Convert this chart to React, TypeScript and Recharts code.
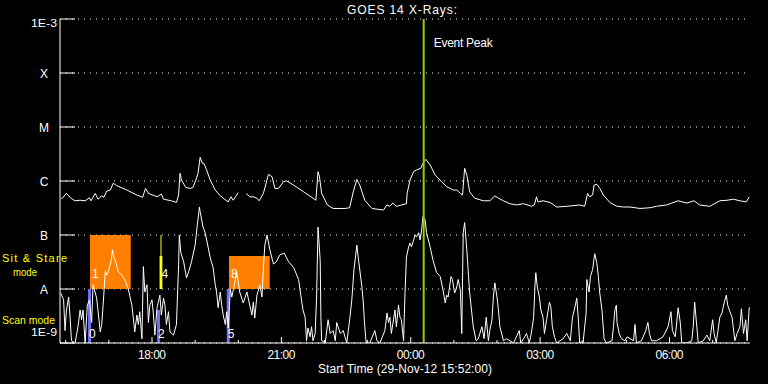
import React from 'react';
import { LineChart, Line, XAxis, YAxis, CartesianGrid, ReferenceArea, ReferenceLine } from 'recharts';

// minutes after 29-Nov-12 15:52, flux in W/m^2
const longChannel: [number, number | null][] = [
  [2, 4.6e-7], [9, 5.9e-7], [15, 4.8e-7], [21, 4.3e-7], [28, 4.4e-7], [35, 4.3e-7], [41, 4.9e-7],
  [43, 4.3e-7], [49, 5.9e-7], [53, 4.6e-7], [58, 5.3e-7], [61, 5.0e-7], [65, 6.5e-7], [70, 6.8e-7],
  [74, 9.1e-7], [79, 8.2e-7], [93, 6.8e-7], [107, 5.5e-7], [115, 5.0e-7], [119, 7.3e-7], [123, 5.9e-7],
  [135, 5.1e-7], [141, 5.7e-7], [144, 4.6e-7], [155, 4.3e-7], [162, 4.0e-7], [165, 5.5e-7], [167, 1.39e-6],
  [169, 1.04e-6], [175, 7.6e-7], [181, 7.3e-7], [185, 7.6e-7], [189, 1.04e-6], [192, 1.39e-6], [195, 2.75e-6],
  [198, 2.13e-6], [200, 2.13e-6], [204, 1.6e-6], [209, 1.04e-6], [216, 6.8e-7], [223, 5.3e-7], [234, 4.1e-7],
  [238, 5.1e-7], [241, 4.4e-7], [248, 6.1e-7], [253, null], [259, 5.9e-7], [264, 5.1e-7], [269, 5.1e-7],
  [274, 4.8e-7], [277, 4.3e-7], [283, 5.9e-7], [290, 1.33e-6], [295, 1.2e-6], [299, 7.3e-7], [304, 7.3e-7],
  [311, 9.7e-7], [315, 1.01e-6], [325, 8.4e-7], [339, 6.3e-7], [352, 4.8e-7], [356, 4.4e-7], [359, 1.49e-6],
  [361, 1.2e-6], [364, 5.9e-7], [372, 3.6e-7], [380, 3.1e-7], [397, 3.1e-7], [403, 3.2e-7], [408, 6.3e-7],
  [413, 1.07e-6], [417, 8.4e-7], [424, 4.4e-7], [434, 3.1e-7], [450, 2.9e-7], [455, 3.6e-7], [459, 3.4e-7],
  [463, 3.9e-7], [468, 3.4e-7], [482, 3.8e-7], [483, 5.9e-7], [487, 1.04e-6], [492, 1.49e-6], [496, 1.6e-6],
  [502, 1.72e-6], [505, 2.13e-6], [509, 2.52e-6], [515, 1.98e-6], [522, 1.29e-6], [531, 9.7e-7], [538, 7.8e-7],
  [543, 7.3e-7], [547, 6.8e-7], [552, 6.8e-7], [557, 5.9e-7], [560, 5.5e-7], [563, 1.72e-6], [566, 1.29e-6],
  [570, 6.3e-7], [577, 4.8e-7], [589, 4.3e-7], [598, 4.3e-7], [605, 5.3e-7], [610, 4.8e-7], [617, 4.3e-7],
  [626, 3.8e-7], [635, 3.6e-7], [645, 3.8e-7], [656, 3.4e-7], [660, 3.6e-7], [663, 5.1e-7], [665, 4.1e-7],
  [672, 4.3e-7], [682, 4.0e-7], [691, 3.3e-7], [705, 3.4e-7], [723, 3.6e-7], [730, 3.4e-7], [734, 5.9e-7],
  [737, 5.1e-7], [741, 5.5e-7], [743, 8.4e-7], [747, 8.7e-7], [751, 7.3e-7], [756, 5.5e-7], [765, 4.0e-7],
  [775, 3.4e-7], [784, 3.3e-7], [793, 3.3e-7], [807, 3.1e-7], [821, 3.2e-7], [830, 3.4e-7], [844, 3.6e-7],
  [860, 4.3e-7], [872, 3.9e-7], [882, 4.3e-7], [890, 3.6e-7], [904, 3.4e-7], [918, 4.3e-7], [928, 4.4e-7],
  [937, 4.6e-7], [946, 4.3e-7], [955, 4.1e-7], [959, 5.1e-7],
];

const shortChannel: [number, number][] = [
  [1, 8.4e-9], [5, 6.3e-9], [7, 1.7e-9], [9, 4.1e-9], [12, 7.1e-9], [14, 3.0e-9], [16, 1.1e-9], [21, 1.0e-9],
  [25, 2.0e-9], [28, 4.1e-9], [30, 2.7e-9], [32, 4.1e-9], [35, 1.0e-9], [38, 5.0e-9], [41, 6.3e-9], [44, 2.4e-9],
  [46, 1.2e-8], [51, 6.8e-9], [56, 1.6e-9], [58, 2.2e-9], [60, 5.0e-9], [63, 2.1e-8], [65, 1.8e-8], [67, 2.1e-8],
  [71, 3.2e-8], [73, 5.3e-8], [75, 3.9e-8], [78, 3.0e-8], [81, 2.1e-8], [86, 1.8e-8], [90, 1.5e-8], [95, 1.0e-8],
  [100, 5.0e-9], [102, 2.9e-9], [104, 1.6e-9], [107, 3.3e-9], [109, 2.2e-9], [111, 3.8e-9], [114, 1.2e-9],
  [116, 2.6e-8], [118, 8.8e-9], [121, 1.2e-8], [123, 2.4e-9], [125, 5.0e-9], [128, 6.3e-9], [130, 3.3e-9],
  [132, 1.4e-9], [135, 4.5e-9], [139, 7.7e-9], [141, 3.3e-9], [144, 6.8e-9], [146, 5.0e-9], [148, 2.2e-9],
  [151, 3.8e-9], [153, 1.6e-9], [158, 1.4e-9], [162, 2.2e-9], [165, 2.8e-8], [166, 1.0e-7], [168, 4.8e-8],
  [172, 3.2e-8], [176, 1.6e-8], [179, 2.1e-8], [183, 3.2e-8], [188, 6.5e-8], [191, 1.5e-7], [194, 3.3e-7],
  [195, 2.7e-7], [199, 1.4e-7], [202, 1.1e-7], [209, 3.8e-8], [213, 2.5e-8], [216, 1.2e-8], [218, 8.4e-9],
  [220, 4.5e-9], [223, 8.8e-9], [225, 5.0e-9], [227, 3.3e-9], [230, 2.2e-9], [232, 3.8e-9], [234, 1.9e-9],
  [237, 1.0e-8], [239, 7.1e-9], [241, 9.6e-9], [246, 2.0e-8], [250, 8.8e-9], [255, 5.5e-9], [260, 8.8e-9],
  [264, 5.0e-9], [267, 3.3e-9], [269, 5.7e-9], [271, 2.9e-9], [274, 7.7e-9], [278, 1.2e-8], [281, 7.1e-9],
  [283, 2.5e-8], [285, 6.5e-8], [288, 1.0e-7], [292, 5.3e-8], [297, 2.9e-8], [301, 3.2e-8], [306, 4.3e-8],
  [312, 4.6e-8], [318, 3.2e-8], [325, 2.5e-8], [332, 1.5e-8], [334, 9.6e-9], [338, 4.1e-9], [341, 3.0e-9],
  [343, 1.1e-9], [345, 1.9e-9], [348, 1.3e-9], [350, 2.0e-9], [352, 1.1e-9], [355, 1.5e-9], [357, 7.1e-9],
  [359, 1.4e-7], [362, 3.4e-8], [363, 3.0e-9], [364, 1.1e-9], [369, 1.0e-9], [373, 2.7e-9], [376, 1.5e-9],
  [380, 1.7e-9], [383, 1.1e-9], [385, 2.4e-9], [390, 1.5e-9], [394, 1.7e-9], [399, 1.0e-9], [403, 2.7e-9],
  [406, 6.3e-9], [409, 2.3e-8], [413, 6.5e-8], [415, 3.8e-8], [420, 1.1e-8], [422, 5.5e-9], [424, 2.0e-9],
  [426, 1.0e-9], [431, 1.0e-9], [438, 1.7e-9], [441, 1.1e-9], [445, 1.0e-9], [452, 1.7e-9], [455, 3.6e-9],
  [457, 2.4e-9], [459, 3.0e-9], [461, 1.5e-9], [464, 2.7e-9], [466, 4.1e-9], [468, 2.0e-9], [471, 5.0e-9],
  [473, 3.0e-9], [475, 2.7e-9], [478, 1.1e-9], [480, 8.4e-9], [482, 3.9e-8], [485, 6.0e-8], [487, 7.1e-8],
  [489, 6.0e-8], [492, 8.1e-8], [494, 1.0e-7], [496, 9.2e-8], [499, 1.1e-7], [501, 8.1e-8], [503, 1.2e-7],
  [505, 2.2e-7], [508, 1.9e-7], [510, 1.1e-7], [515, 6.0e-8], [519, 3.4e-8], [524, 2.0e-8], [529, 1.7e-8],
  [532, 1.1e-8], [536, 5.5e-9], [538, 7.7e-9], [540, 7.1e-9], [544, 1.7e-8], [546, 1.5e-8], [549, 8.4e-9],
  [552, 1.1e-8], [554, 1.5e-8], [557, 9.6e-9], [559, 1.5e-9], [561, 1.1e-7], [563, 1.7e-7], [566, 5.3e-8],
  [570, 8.4e-9], [575, 2.0e-9], [579, 1.1e-9], [582, 1.2e-9], [587, 2.0e-9], [590, 1.2e-9], [593, 3.0e-9],
  [596, 1.1e-9], [598, 1.7e-9], [601, 2.7e-9], [603, 7.1e-9], [605, 1.3e-8], [608, 7.1e-9], [610, 4.1e-9],
  [612, 2.0e-9], [617, 1.1e-9], [621, 1.2e-9], [631, 1.0e-9], [639, 1.7e-9], [641, 1.0e-9], [645, 1.2e-9],
  [649, 1.5e-9], [653, 1.0e-9], [656, 1.6e-9], [659, 3.0e-9], [661, 1.3e-8], [662, 2.0e-8], [664, 1.1e-8],
  [667, 7.1e-9], [669, 4.1e-9], [672, 3.0e-9], [674, 1.5e-9], [677, 2.7e-9], [681, 5.7e-9], [683, 4.6e-9],
  [685, 2.0e-9], [688, 1.3e-9], [691, 1.0e-9], [700, 1.2e-9], [705, 1.5e-9], [710, 1.1e-9], [713, 3.0e-9],
  [717, 5.0e-9], [719, 6.8e-9], [721, 3.0e-9], [723, 1.0e-9], [728, 1.1e-9], [732, 3.6e-9], [733, 1.5e-8],
  [736, 8.8e-9], [738, 1.7e-8], [741, 2.3e-8], [744, 4.5e-8], [747, 3.0e-8], [749, 1.7e-8], [751, 8.4e-9],
  [754, 4.1e-9], [757, 1.2e-9], [760, 1.0e-9], [768, 1.1e-9], [770, 2.0e-9], [772, 4.1e-9], [774, 5.0e-9],
  [775, 2.4e-9], [778, 1.5e-9], [781, 1.2e-9], [786, 1.1e-9], [789, 1.3e-9], [798, 1.1e-9], [800, 2.2e-9],
  [802, 1.0e-9], [809, 1.1e-9], [815, 1.7e-9], [818, 2.4e-9], [820, 1.5e-9], [823, 1.1e-9], [830, 1.1e-9],
  [839, 1.3e-9], [846, 2.0e-9], [850, 3.8e-9], [852, 1.7e-9], [856, 1.3e-9], [860, 4.5e-9], [863, 2.4e-9],
  [865, 1.0e-9], [872, 1.0e-9], [879, 1.1e-9], [881, 2.0e-9], [883, 5.7e-9], [886, 2.0e-9], [888, 1.0e-9],
  [895, 1.1e-9], [900, 1.4e-9], [904, 1.1e-9], [908, 2.7e-9], [910, 1.5e-9], [913, 1.0e-9], [918, 3.0e-9],
  [921, 3.6e-9], [924, 5.5e-9], [927, 7.7e-9], [929, 5.0e-9], [932, 3.8e-9], [935, 3.0e-9], [939, 1.1e-9],
  [942, 1.5e-9], [946, 2.0e-9], [948, 4.3e-9], [951, 1.5e-9], [954, 2.7e-9], [956, 1.1e-9], [959, 4.6e-9],
];

const hourTicks = [8, 68, 128, 188, 248, 308, 368, 428, 488, 548, 608, 668, 728, 788, 848, 908];
const majorTicks: Record<number, string> = { 128: '18:00', 308: '21:00', 488: '00:00', 668: '03:00', 848: '06:00' };

const yTicks = [1e-9, 1e-8, 1e-7, 1e-6, 1e-5, 1e-4, 1e-3];
const yLabels = ['1E-9', 'A', 'B', 'C', 'M', 'X', '1E-3'];

const eventPeak = 506;

// sit & stare (orange / yellow) and scan (blue) markers
const stareBoxes = [
  { x1: 41.7, x2: 98.4, top: 1e-7, tag: '1', color: '#ff8000' },
  { x1: 138.5, x2: 142.4, top: 4.1e-8, tag: '4', color: '#ffff00' },
  { x1: 235.1, x2: 291.8, top: 4.1e-8, tag: '8', color: '#ff8000' },
];
const scanBars = [
  { x1: 39, x2: 43.1, top: 1e-8, tag: '0' },
  { x1: 135, x2: 139.1, top: 4.1e-9, tag: '2' },
  { x1: 232, x2: 236.2, top: 1e-8, tag: '5' },
];

const font = '"Liberation Sans", Arial, sans-serif';

const longData = longChannel.map(([t, f]) => ({ t, f }));
const shortData = shortChannel.map(([t, f]) => ({ t, f }));

const TopTick = (p: any) => {
  const len = majorTicks[p.payload.value] ? 6 : 3;
  return <line x1={p.x} x2={p.x} y1={p.y} y2={p.y + len} stroke="#fff" />;
};

const BottomTick = (p: any) => {
  const lab = majorTicks[p.payload.value];
  return (
    <g>
      <line x1={p.x} x2={p.x} y1={p.y} y2={p.y - (lab ? 6 : 3)} stroke="#fff" />
      {lab && (
        <text x={p.x} y={p.y + 16} fill="#fff" fontSize={12} fontFamily={font} textAnchor="middle" textLength={28}>
          {lab}
        </text>
      )}
    </g>
  );
};

const LeftTick = (p: any) => {
  const i = p.index;
  const lab = yLabels[i];
  const edge = i === 0 || i === yTicks.length - 1;
  return (
    <g>
      <line x1={p.x} x2={p.x + 15} y1={p.y} y2={p.y} stroke="#fff" />
      {edge ? (
        <text
          x={p.x - 29}
          y={i === 0 ? p.y - 7 : p.y + 8}
          fill="#fff"
          fontSize={11.5}
          fontFamily={font}
          textLength={26}
          lengthAdjust="spacingAndGlyphs"
        >
          {lab}
        </text>
      ) : (
        <text x={p.x - 16} y={p.y + 5} fill="#fff" fontSize={12} fontFamily={font} textAnchor="middle">
          {lab}
        </text>
      )}
    </g>
  );
};

const RightTick = (p: any) => <line x1={p.x - 14} x2={p.x} y1={p.y} y2={p.y} stroke="#fff" />;

const tagLabel = (tag: string, dx: number, dy: number) => (p: any) => {
  const v = p.viewBox;
  return (
    <text x={v.x + dx} y={v.y + v.height - dy} fill="#fff" fontSize={12} fontFamily={font}>
      {tag}
    </text>
  );
};

export default function App() {
  return (
    <div style={{ position: 'absolute', left: 0, top: 0, width: 768, height: 384, background: '#000' }}>
      <LineChart width={768} height={384} margin={{ top: 19, right: 18, bottom: 0, left: 0 }}>
        <CartesianGrid vertical={false} stroke="#fff" strokeDasharray="1 5" />
        <XAxis
          dataKey="t"
          type="number"
          domain={[0, 960]}
          allowDataOverflow
          ticks={hourTicks}
          interval={0}
          height={41}
          tickSize={0}
          tickMargin={0}
          tickLine={false}
          stroke="#fff"
          tick={<BottomTick />}
        />
        <XAxis
          xAxisId="top"
          orientation="top"
          dataKey="t"
          type="number"
          domain={[0, 960]}
          allowDataOverflow
          ticks={hourTicks}
          interval={0}
          height={0}
          tickSize={0}
          tickMargin={0}
          tickLine={false}
          stroke="#fff"
          tick={<TopTick />}
        />
        <YAxis
          scale="log"
          domain={[1e-9, 1e-3]}
          allowDataOverflow
          ticks={yTicks}
          interval={0}
          width={60}
          tickSize={0}
          tickMargin={0}
          tickLine={false}
          stroke="#fff"
          tick={<LeftTick />}
        />
        <YAxis
          yAxisId="right"
          orientation="right"
          scale="log"
          domain={[1e-9, 1e-3]}
          allowDataOverflow
          ticks={yTicks}
          interval={0}
          width={0}
          tickSize={0}
          tickMargin={0}
          tickLine={false}
          stroke="#fff"
          tick={<RightTick />}
        />
        {stareBoxes.map((b) => (
          <ReferenceArea
            key={'s' + b.tag}
            x1={b.x1}
            x2={b.x2}
            y1={1e-8}
            y2={b.top}
            fill={b.color}
            fillOpacity={1}
            stroke="none"
            label={tagLabel(b.tag, 2, 11)}
          />
        ))}
        <ReferenceLine
          segment={[{ x: 140.5, y: 4.1e-8 }, { x: 140.5, y: 1e-7 }]}
          stroke="#ffff00"
          strokeWidth={1}
        />
        {scanBars.map((b) => (
          <ReferenceArea
            key={'c' + b.tag}
            x1={b.x1}
            x2={b.x2}
            y1={1e-9}
            y2={b.top}
            fill="#7070ff"
            fillOpacity={1}
            stroke="none"
            label={tagLabel(b.tag, 1, 5)}
          />
        ))}
        <Line data={longData} dataKey="f" stroke="#fff" strokeWidth={1} dot={false} type="linear" isAnimationActive={false} />
        <Line data={shortData} dataKey="f" stroke="#fff" strokeWidth={1} dot={false} type="linear" isAnimationActive={false} />
        <ReferenceLine
          x={eventPeak}
          stroke="#99cc00"
          strokeWidth={2}
          label={(p: any) => (
            <text x={p.viewBox.x + 10} y={p.viewBox.y + 28} fill="#fff" fontSize={12} fontFamily={font} textLength={59}>
              Event Peak
            </text>
          )}
        />
      </LineChart>
      <svg width={768} height={384} style={{ position: 'absolute', left: 0, top: 0, pointerEvents: 'none' }}>
        <text x={347} y={14} fill="#fff" fontSize={12} fontFamily={font} textLength={110}>
          GOES 14 X-Rays:
        </text>
        <text x={318} y={373} fill="#fff" fontSize={12} fontFamily={font} textLength={174}>
          Start Time (29-Nov-12 15:52:00)
        </text>
        <text x={2} y={262} fill="#ffff00" fontSize={11} fontFamily={font} textLength={65}>
          Sit &amp; Stare
        </text>
        <text x={13} y={275.5} fill="#ffff00" fontSize={11} fontFamily={font} textLength={24} lengthAdjust="spacingAndGlyphs">
          mode
        </text>
        <text x={2} y={324} fill="#ffff00" fontSize={11} fontFamily={font} textLength={53} lengthAdjust="spacingAndGlyphs">
          Scan mode
        </text>
      </svg>
    </div>
  );
}
